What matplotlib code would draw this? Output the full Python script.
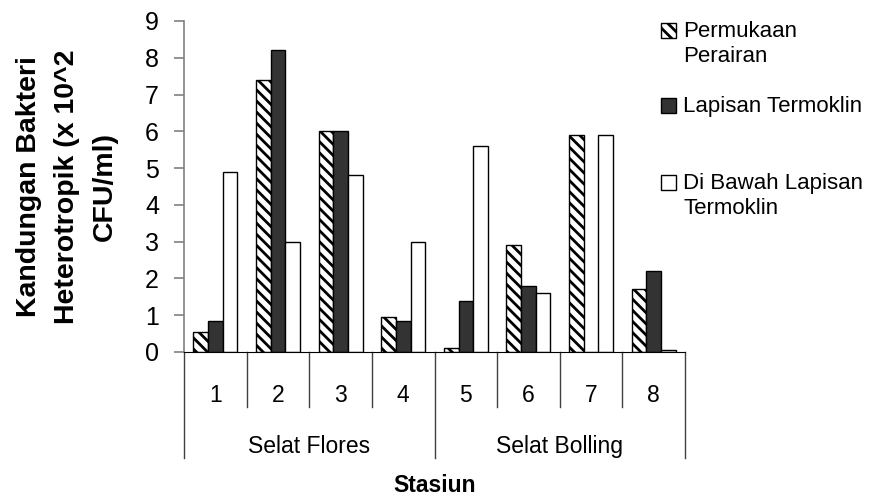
import matplotlib
matplotlib.use("Agg")
import matplotlib.pyplot as plt
import numpy as np
from matplotlib.patches import Rectangle

plt.rcParams["font.family"] = ["Liberation Sans", "DejaVu Sans"]
plt.rcParams["hatch.linewidth"] = 2.0

stations = ["1", "2", "3", "4", "5", "6", "7", "8"]
groups = ["Selat Flores", "Selat Bolling"]
series_names = ["Permukaan\nPerairan", "Lapisan Termoklin", "Di Bawah Lapisan\nTermoklin"]
permukaan = [0.55, 7.4, 6.0, 0.95, 0.1, 2.9, 5.9, 1.7]
termoklin = [0.85, 8.2, 6.0, 0.85, 1.4, 1.8, 0.0, 2.2]
bawah = [4.9, 3.0, 4.8, 3.0, 5.6, 1.6, 5.9, 0.05]

HATCH = "\\\\\\"
DARK = "#333333"

fig = plt.figure(figsize=(8.75, 4.99), dpi=100)
ax = fig.add_axes([0.2103, 0.2946, 0.5726, 0.6634])

x = np.arange(len(stations))
w = 0.234
ax.bar(x - w, permukaan, w, facecolor="white", edgecolor="black", hatch=HATCH, linewidth=1)
ax.bar(x, termoklin, w, facecolor=DARK, edgecolor="black", linewidth=1)
ax.bar(x + w, bawah, w, facecolor="white", edgecolor="black", linewidth=1)

ax.set_xlim(-0.5, len(stations) - 0.5)
ax.set_ylim(0, 9)
ax.set_yticks(range(10))
ax.tick_params(axis="y", labelsize=18, direction="out", length=7, pad=11,
               color="#808080", width=1.2)
ax.set_xticks([])
for s in ["top", "right"]:
    ax.spines[s].set_visible(False)
ax.spines["left"].set_color("#808080")
ax.spines["left"].set_linewidth(1.2)
ax.spines["bottom"].set_color("black")

# two-level category axis drawn below the plot
trans = ax.get_xaxis_transform()
for i in range(len(stations) + 1):
    bottom = -0.32 if i % 4 == 0 else -0.166
    ax.plot([i - 0.5, i - 0.5], [0, bottom], transform=trans, clip_on=False,
            color="#404040", lw=1)
for i, s in enumerate(stations):
    ax.text(i, -0.151, s, transform=trans, ha="center", va="baseline", fontsize=16.5)
for g, name in enumerate(groups):
    ax.text(g * 4 + 1.5, -0.305, name, transform=trans, ha="center", va="baseline",
            fontsize=16.5)
ax.text(3.5, -0.423, "Stasiun", transform=trans, ha="center", va="baseline",
        fontsize=16.5, fontweight="bold")

ax.set_ylabel("Kandungan Bakteri\nHeterotropik (x 10^2\nCFU/ml)", fontsize=20.5,
              fontweight="bold", linespacing=1.6, va="center", ha="center")
ax.yaxis.set_label_coords(-0.234, 0.5)

# legend placed by hand to keep the uneven spacing of the original
handles = [
    dict(facecolor="white", hatch=HATCH),
    dict(facecolor=DARK),
    dict(facecolor="white"),
]
entry_y = [32, 107, 184]  # pixel rows of first text line
W, H = 875, 499
for name, style, yy in zip(series_names, handles, entry_y):
    fig.patches.append(Rectangle((661 / W, 1 - (yy + 6) / H), 15 / W, 15 / H,
                                 transform=fig.transFigure, edgecolor="black",
                                 linewidth=1, **style))
    fig.text(683 / W, 1 - (yy - 11) / H, name, ha="left", va="top", fontsize=16,
             linespacing=1.25)

fig.savefig("out.png", dpi=100)
